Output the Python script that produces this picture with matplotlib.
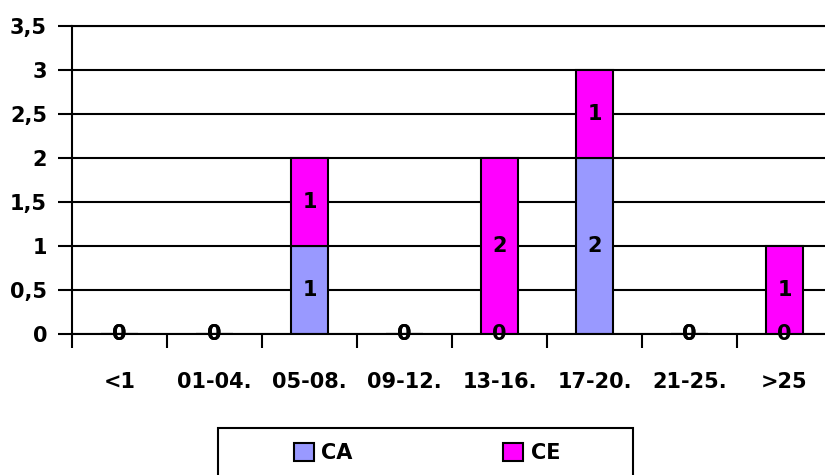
import matplotlib
matplotlib.use("Agg")
import matplotlib.pyplot as plt
from matplotlib.patches import Rectangle, Patch
import numpy as np

categories = ["<1", "01-04.", "05-08.", "09-12.", "13-16.", "17-20.", "21-25.", ">25"]
ca_values = [0, 0, 1, 0, 0, 2, 0, 0]
ce_values = [0, 0, 1, 0, 2, 1, 0, 1]
y_ticks = [0, 0.5, 1, 1.5, 2, 2.5, 3, 3.5]
y_tick_labels = ["0", "0,5", "1", "1,5", "2", "2,5", "3", "3,5"]
series_names = ["CA", "CE"]
colors = ["#9999FF", "#FF00FF"]

plt.rcParams["font.family"] = ["DejaVu Sans"]
plt.rcParams["font.weight"] = "bold"
FS = 15

W, H = 825, 475
fig = plt.figure(figsize=(W / 100, H / 100), dpi=100)
ax = fig.add_axes([72 / W, (H - 334) / H, (832 - 72) / W, (334 - 26) / H])

x = np.arange(len(categories))
width = 0.39
b1 = ax.bar(x, ca_values, width, color=colors[0], edgecolor="black", linewidth=1.5, zorder=2)
b2 = ax.bar(x, ce_values, width, bottom=ca_values, color=colors[1], edgecolor="black",
            linewidth=1.5, zorder=2)
for bars in (b1, b2):
    ax.bar_label(bars, labels=[str(v) for v in bars.datavalues], label_type="center",
                 fontsize=FS, fontweight="bold", zorder=5)

ax.set_xlim(-0.5, len(categories) - 0.5)
ax.set_ylim(0, 3.5)
ax.set_yticks(y_ticks)
ax.set_yticklabels(y_tick_labels)
ax.yaxis.grid(True, color="black", linewidth=1.5)
ax.set_axisbelow(True)

ax.set_xticks(x)
ax.set_xticklabels(categories)
ax.set_xticks(np.arange(len(categories) + 1) - 0.5, minor=True)
ax.tick_params(axis="x", which="major", length=0, pad=27, labelsize=FS)
ax.tick_params(axis="x", which="minor", length=10, width=1.5, direction="out")
ax.tick_params(axis="y", length=10, width=1.5, direction="out", pad=8, labelsize=FS)
for lab in ax.get_xticklabels() + ax.get_yticklabels():
    lab.set_fontweight("bold")

ax.spines["right"].set_visible(False)
for side in ("left", "bottom", "top"):
    ax.spines[side].set_linewidth(1.5)

# legend box at the bottom
fig.patches.append(Rectangle((218 / W, (H - 490) / H), (633 - 218) / W, 62 / H,
                             transform=fig.transFigure, facecolor="white",
                             edgecolor="black", linewidth=1.5, zorder=1))
handles = [Patch(facecolor=c, edgecolor="black", linewidth=1.5) for c in colors]
leg = fig.legend(handles, series_names, loc="center", bbox_to_anchor=(427 / W, (H - 453) / H),
                 ncol=2, frameon=False, handlelength=0.95, handleheight=0.95,
                 handletextpad=0.35, columnspacing=7.25, prop={"weight": "bold", "size": FS})
leg.set_zorder(3)

fig.savefig("out.png", dpi=100)
